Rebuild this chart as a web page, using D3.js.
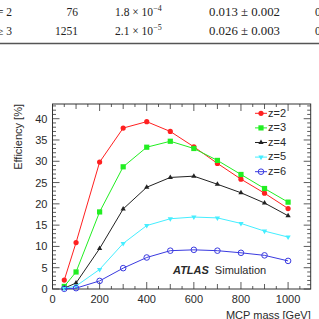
<!DOCTYPE html>
<html>
<head>
<meta charset="utf-8">
<script src="https://cdn.jsdelivr.net/npm/d3@7"></script>
<style>
  html, body { margin: 0; padding: 0; background: #fff; }
  svg { display: block; }
  .tbl { font-family: "Liberation Serif", "DejaVu Serif", serif; font-size: 11.5px; fill: #222; }
  .tick-label { font-family: "Liberation Sans", Arial, sans-serif; font-size: 11px; fill: #2a2a2a; }
</style>
</head>
<body>
<div id="chart"></div>
<script>
// masses [GeV]
const masses = [50, 100, 200, 300, 400, 500, 600, 700, 800, 900, 1000];

// efficiency [%] per charge
const effZ2 = [2.1, 10.9, 29.8, 37.8, 39.3, 37.0, 33.4, 29.5, 25.8, 22.5, 18.9];
const effZ3 = [0.6, 4.0, 18.1, 28.7, 33.3, 34.7, 33.0, 30.2, 26.9, 23.6, 20.4];
const effZ4 = [0.2, 1.4, 9.5, 18.8, 23.9, 26.2, 26.5, 24.6, 22.6, 20.2, 17.2];
const effZ5 = [0.1, 0.7, 4.6, 10.7, 14.9, 16.5, 16.9, 16.7, 15.4, 13.6, 12.2];
const effZ6 = [0.05, 0.2, 1.9, 4.9, 7.4, 9.0, 9.2, 9.0, 8.5, 7.9, 6.6];

const xTicks = [0, 200, 400, 600, 800, 1000];
const yTicks = [0, 5, 10, 15, 20, 25, 30, 35, 40];

// bits of the table above the figure
const tableRows = [
  ["= 2", "76", "1.8 × 10", "−4", "0.013 ± 0.002"],
  ["≥ 3", "1251", "2.1 × 10", "−5", "0.026 ± 0.003"]
];

const series = [
  { name: "z=2", values: effZ2, color: "#ff2020", marker: "circle" },
  { name: "z=3", values: effZ3, color: "#22ee22", marker: "square" },
  { name: "z=4", values: effZ4, color: "#222222", marker: "triangle" },
  { name: "z=5", values: effZ5, color: "#44eeff", marker: "tridown" },
  { name: "z=6", values: effZ6, color: "#3a3ae0", marker: "ocircle" }
];

const width = 319, height = 319;
const frame = { left: 52.5, right: 310.7, top: 104, bottom: 289 };

const svg = d3.select("#chart").append("svg")
  .attr("width", width)
  .attr("height", height);

// table fragment
tableRows.forEach((row, i) => {
  const y = 16 + i * 19;
  svg.append("text").attr("class", "tbl").attr("x", -3).attr("y", y).text(row[0]);
  svg.append("text").attr("class", "tbl").attr("x", 78).attr("y", y)
    .attr("text-anchor", "end").text(row[1]);
  const t = svg.append("text").attr("class", "tbl").attr("x", 115).attr("y", y);
  t.append("tspan").text(row[2]);
  t.append("tspan").attr("dy", -5).attr("font-size", "8px").text(row[3]);
  svg.append("text").attr("class", "tbl").attr("x", 209).attr("y", y)
    .attr("textLength", 71).attr("lengthAdjust", "spacingAndGlyphs").text(row[4]);
  svg.append("text").attr("class", "tbl").attr("x", 315).attr("y", y).text("0");
});
svg.append("line")
  .attr("x1", 0).attr("x2", width).attr("y1", 43.5).attr("y2", 43.5)
  .attr("stroke", "#555").attr("stroke-width", 1.5);

const x = d3.scaleLinear().domain([0, 1096]).range([frame.left, frame.right]);
const y = d3.scaleLinear().domain([0, 43.45]).range([frame.bottom, frame.top]);

const g = svg.append("g");

// ticks, all four sides, pointing inward
const tickColor = "#333";
d3.range(0, 1096, 50).forEach(v => {
  const len = v % 200 === 0 ? 7 : (v % 100 === 0 ? 5 : 3);
  g.append("line").attr("x1", x(v)).attr("x2", x(v))
    .attr("y1", frame.bottom).attr("y2", frame.bottom - len)
    .attr("stroke", tickColor).attr("stroke-width", 0.8);
  g.append("line").attr("x1", x(v)).attr("x2", x(v))
    .attr("y1", frame.top).attr("y2", frame.top + len)
    .attr("stroke", tickColor).attr("stroke-width", 0.8);
});
d3.range(0, 43.4, 1).forEach(v => {
  const len = v % 5 === 0 ? 7 : 3.5;
  g.append("line").attr("y1", y(v)).attr("y2", y(v))
    .attr("x1", frame.left).attr("x2", frame.left + len)
    .attr("stroke", tickColor).attr("stroke-width", 0.8);
  g.append("line").attr("y1", y(v)).attr("y2", y(v))
    .attr("x1", frame.right).attr("x2", frame.right - len)
    .attr("stroke", tickColor).attr("stroke-width", 0.8);
});

g.append("rect")
  .attr("x", frame.left).attr("y", frame.top)
  .attr("width", frame.right - frame.left).attr("height", frame.bottom - frame.top)
  .attr("fill", "none").attr("stroke", "#333").attr("stroke-width", 1);

// tick labels
xTicks.forEach(v => {
  g.append("text").attr("class", "tick-label")
    .attr("x", x(v)).attr("y", frame.bottom + 14)
    .attr("text-anchor", "middle").text(v);
});
yTicks.forEach(v => {
  g.append("text").attr("class", "tick-label")
    .attr("x", frame.left - 5).attr("y", y(v) + 4)
    .attr("text-anchor", "end").text(v);
});

// axis titles
g.append("text").attr("class", "tick-label")
  .attr("transform", `translate(22,${frame.top}) rotate(-90)`)
  .attr("text-anchor", "end").text("Efficiency [%]");
g.append("text").attr("class", "tick-label")
  .attr("x", frame.right).attr("y", 318.5)
  .attr("text-anchor", "end").text("MCP mass [GeV]");

function drawMarker(sel, type, color, cx, cy) {
  if (type === "circle") {
    sel.append("circle").attr("cx", cx).attr("cy", cy).attr("r", 2.6).attr("fill", color);
  } else if (type === "ocircle") {
    sel.append("circle").attr("cx", cx).attr("cy", cy).attr("r", 2.8)
      .attr("fill", "none").attr("stroke", color).attr("stroke-width", 1);
  } else if (type === "square") {
    sel.append("rect").attr("x", cx - 2.6).attr("y", cy - 2.6)
      .attr("width", 5.2).attr("height", 5.2).attr("fill", color);
  } else if (type === "triangle") {
    sel.append("path").attr("d", d3.symbol(d3.symbolTriangle, 12)()).attr("fill", color)
      .attr("transform", `translate(${cx},${cy})`);
  } else if (type === "tridown") {
    sel.append("path").attr("d", d3.symbol(d3.symbolTriangle, 12)()).attr("fill", color)
      .attr("transform", `translate(${cx},${cy}) rotate(180)`);
  }
}

const line = d3.line().x((d, i) => x(masses[i])).y(d => y(d));

series.forEach(s => {
  g.append("path").datum(s.values)
    .attr("d", line)
    .attr("fill", "none")
    .attr("stroke", s.color)
    .attr("stroke-width", 1);
  s.values.forEach((v, i) => drawMarker(g, s.marker, s.color, x(masses[i]), y(v)));
});

// legend
series.forEach((s, i) => {
  const ly = 113.3 + i * 14.6;
  g.append("line").attr("x1", 255).attr("x2", 267).attr("y1", ly).attr("y2", ly)
    .attr("stroke", s.color).attr("stroke-width", 1);
  drawMarker(g, s.marker, s.color, 261, ly);
  g.append("text").attr("class", "tick-label")
    .attr("x", 268).attr("y", ly + 3.3)
    .attr("font-size", "9.5px").text(s.name);
});

// ATLAS label
const lab = g.append("text").attr("class", "tick-label")
  .attr("x", 173).attr("y", 274);
lab.append("tspan").attr("font-weight", "bold").attr("font-style", "italic").text("ATLAS");
lab.append("tspan").attr("dx", 6).text("Simulation");
</script>
</body>
</html>
